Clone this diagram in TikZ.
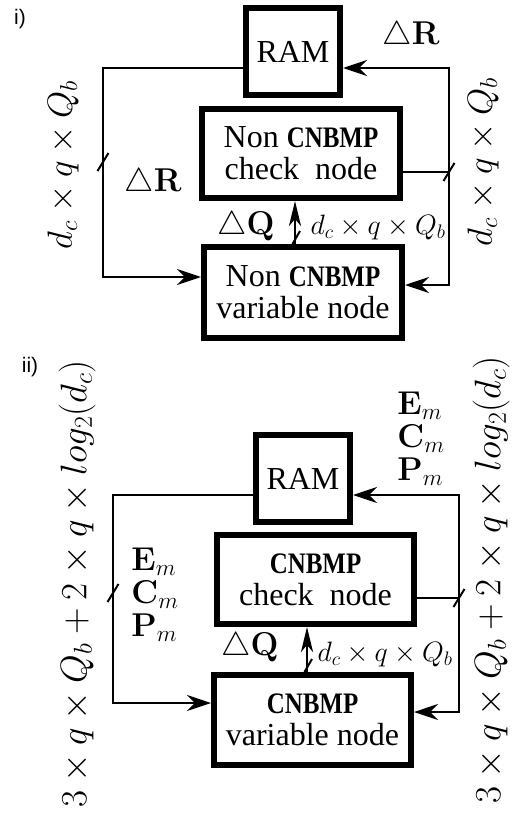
\RequirePackage{fix-cm}
\documentclass[tikz,border=0pt]{standalone}
\usepackage[no-math]{fontspec}
\setmainfont{Liberation Serif}
\newfontfamily\panelfont{Liberation Sans}
\usepackage{amsmath}
\usepackage{graphicx}
\usepackage{tikz}
\usetikzlibrary{positioning, arrows.meta}

\newcommand{\cnbmp}{\scalebox{0.78}[0.93]{\bfseries CNBMP}}

\begin{document}
\begin{tikzpicture}[
    x=1pt, y=-1pt,
    block/.style={draw, line width=6pt, align=center, inner sep=0pt,
                  font=\fontsize{32}{32}\selectfont},
    link/.style={line width=2.2pt},
    feed/.style={link, -{Stealth[length=24pt, width=16pt, inset=8pt]}},
    flow/.style={line width=2.8pt, -{Stealth[length=25pt, width=12pt, inset=7pt]}},
    slash/.style={line width=2pt},
    bits/.style={font=\fontsize{35}{35}\selectfont, rotate=90, inner sep=0pt},
    bitslong/.style={font=\fontsize{37}{37}\selectfont, rotate=90, inner sep=0pt},
    lab/.style={font=\fontsize{33}{33}\selectfont},
    stack/.style={font=\fontsize{33}{33}\selectfont, align=left, inner sep=0pt},
    small/.style={font=\fontsize{28}{28}\selectfont},
    panel/.style={font=\panelfont\fontsize{21}{21}\selectfont}
  ]
  \useasboundingbox (0,0) rectangle (511,821);

  % ================= i) non-CNBMP decoder =================
  \node[panel] (p1) at (20,19) {i)};

  % --- Blocks ---
  \node[block, minimum width=94pt, minimum height=87pt] (ram1) at (293,51.5) {RAM};
  \node[block, minimum width=198pt, minimum height=89pt] (chk1) at (301,153.5)
    {Non \cnbmp\\check\ \ node};
  \node[block, minimum width=198pt, minimum height=91pt] (var1) at (303,292.5)
    {Non \cnbmp\\variable node};

  % --- Corners of the feedback loops ---
  \coordinate (a1) at (103,68);
  \coordinate (b1) at (103,277);
  \coordinate (c1) at (449,68);
  \coordinate (d1) at (449,172);
  \coordinate (e1) at (449,285);

  % --- RAM -> variable node (left), check node -> RAM / variable node (right) ---
  \draw[feed] (ram1.west |- a1) -- (a1) -- (b1) -- (var1.west |- b1);
  \draw[link] (chk1.east |- d1) -- (d1);
  \draw[feed] (d1) -- (c1) -- (ram1.east |- c1);
  \draw[feed] (d1) -- (e1) -- (var1.east |- e1);
  \draw[flow] ([xshift=-8pt]var1.north) -- ([xshift=-8pt]var1.north |- chk1.south);

  % --- Bus width ticks ---
  \draw[slash] (103,162) ++(-5.5,9) -- ++(11,-18);
  \draw[slash] (d1) ++(-5.5,9) -- ++(11,-18);
  \draw[slash] ([xshift=-8pt]var1.north) ++(-2.5,0) -- ++(7.5,-13);

  % --- Labels ---
  \node[lab] (dr1) at (411,36) {$\triangle\mathbf{R}$};
  \node[lab] (dr2) at (153,183) {$\triangle\mathbf{R}$};
  \node[lab] (dq1) at (246,226) {$\triangle\mathbf{Q}$};
  \node[small] (w1) at (378,227) {$d_c\times q\times Q_b$};
  \node[bits] (wl1) at (63,165) {$d_c\times q\times Q_b$};
  \node[bits] (wr1) at (483,162) {$d_c\times q\times Q_b$};

  % ================= ii) CNBMP decoder =================
  \node[panel] (p2) at (30,367) {ii)};

  % --- Blocks ---
  \node[block, minimum width=94pt, minimum height=87pt] (ram2) at (303,478.5) {RAM};
  \node[block, minimum width=197pt, minimum height=89pt] (chk2) at (315.5,579.5)
    {\cnbmp\\check\ \ node};
  \node[block, minimum width=197pt, minimum height=90pt] (var2) at (312.5,720)
    {\cnbmp\\variable node};

  % --- Corners of the feedback loops ---
  \coordinate (a2) at (113,495);
  \coordinate (b2) at (113,703);
  \coordinate (c2) at (459,495);
  \coordinate (d2) at (459,598);
  \coordinate (e2) at (459,712);

  \draw[feed] (ram2.west |- a2) -- (a2) -- (b2) -- (var2.west |- b2);
  \draw[link] (chk2.east |- d2) -- (d2);
  \draw[feed] (d2) -- (c2) -- (ram2.east |- c2);
  \draw[feed] (d2) -- (e2) -- (var2.east |- e2);
  \draw[flow] ([xshift=-5.5pt]var2.north) -- ([xshift=-5.5pt]var2.north |- chk2.south);

  % --- Bus width ticks ---
  \draw[slash] (113,593) ++(-5.5,9) -- ++(11,-18);
  \draw[slash] (d2) ++(-5.5,9) -- ++(11,-18);
  \draw[slash] ([xshift=-5.5pt]var2.north) ++(-2.5,0) -- ++(7.5,-13);

  % --- Labels ---
  \node[stack] (ecp1) at (155,595) {$\mathbf{E}_m$\\$\mathbf{C}_m$\\$\mathbf{P}_m$};
  \node[stack] (ecp2) at (421,439) {$\mathbf{E}_m$\\$\mathbf{C}_m$\\$\mathbf{P}_m$};
  \node[lab] (dq2) at (250,647) {$\triangle\mathbf{Q}$};
  \node[small] (w2) at (385,654) {$d_c\times q\times Q_b$};
  \node[bitslong] (wl2) at (77,584) {$3\times q\times Q_b+2\times q\times log_2(d_c)$};
  \node[bitslong] (wr2) at (491,580) {$3\times q\times Q_b+2\times q\times log_2(d_c)$};

\end{tikzpicture}
\end{document}
